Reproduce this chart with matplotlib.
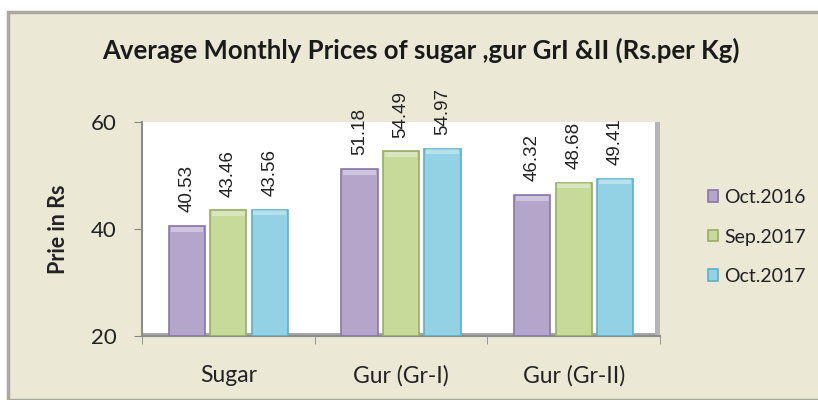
import numpy as np
import matplotlib.pyplot as plt
from matplotlib.patches import Rectangle

# data
categories = ["Sugar", "Gur (Gr-I)", "Gur (Gr-II)"]
series_names = ["Oct.2016", "Sep.2017", "Oct.2017"]
oct2016 = [40.53, 51.18, 46.32]
sep2017 = [43.46, 54.49, 48.68]
oct2017 = [43.56, 54.97, 49.41]

face = ["#B4A5CB", "#C6DA9A", "#93D1E4"]
edge = ["#8A76A8", "#98AE62", "#5FAFC8"]
bg = "#ECE8D6"

plt.rcParams['font.family'] = ['Lato', 'DejaVu Sans']

fig = plt.figure(figsize=(8.18, 4.0), dpi=100)
fig.patch.set_facecolor("white")

# beige chart frame
fig.patches.append(Rectangle((8/818, 0), 1, 388/400, transform=fig.transFigure,
                             facecolor=bg, edgecolor="#A9A9A0", linewidth=2.5, zorder=-5))

ax = fig.add_axes([142/818, 64/400, 518/818, 214/400])
ax.set_facecolor("white")

x = np.arange(len(categories))
w = 0.21
step = 0.24
for i, vals in enumerate([oct2016, sep2017, oct2017]):
    pos = x + (i - 1) * step
    ax.bar(pos, np.array(vals) - 20, width=w, bottom=20, color=face[i],
           edgecolor=edge[i], linewidth=1.2, label=series_names[i], zorder=3)
    # light cap on top of each bar
    ax.bar(pos, 0.9, width=w * 0.9, bottom=np.array(vals) - 1.0, color="white",
           alpha=0.35, linewidth=0, zorder=4)
    for p, v in zip(pos, vals):
        ax.annotate("%.2f" % v, (p, v), xytext=(0, 10), textcoords="offset points",
                    rotation=90, ha="center", va="bottom", fontsize=13.5,
                    family="Liberation Sans", color="#222222")

# floor of the 3d look
ax.add_patch(Rectangle((-0.5, 20), 3.0, 0.55, facecolor="#A8A8A8", edgecolor="none", zorder=2))
ax.add_patch(Rectangle((2.47, 20), 0.03, 40, facecolor="#B5B5B5", edgecolor="none", zorder=2))

ax.set_xlim(-0.5, 2.5)
ax.set_ylim(20, 60)
ax.set_yticks([20, 40, 60])
ax.set_xticks(x)
ax.set_xticklabels(categories)
ax.set_xticks([-0.5, 0.5, 1.5, 2.5], minor=True)
ax.tick_params(axis="x", which="major", length=0, pad=21, labelsize=16.5, colors="#222222")
ax.tick_params(axis="x", which="minor", length=6, color="#888888", direction="out")
ax.tick_params(axis="y", length=6, color="#888888", labelsize=16, pad=12, labelcolor="#222222")
for s in ["top", "right"]:
    ax.spines[s].set_visible(False)
for s in ["left", "bottom"]:
    ax.spines[s].set_color("#8C8C8C")
    ax.spines[s].set_linewidth(1.5)

ax.set_ylabel("Prie in Rs", fontsize=15.5, fontweight="bold", labelpad=16, color="#222222")

fig.text(421/818, 1 - 50/400, "Average Monthly Prices of sugar ,gur GrI &II (Rs.per Kg)",
         ha="center", va="center", fontsize=18.5, fontweight="bold", color="#1A1A1A")

fig.legend(loc="center left", bbox_to_anchor=(690/818, 1 - 237/400), frameon=False,
           fontsize=14, handlelength=0.55, handleheight=0.55, handletextpad=0.3,
           labelspacing=1.15, labelcolor="#222222")

fig.savefig("out.png", dpi=100, facecolor=fig.get_facecolor())
